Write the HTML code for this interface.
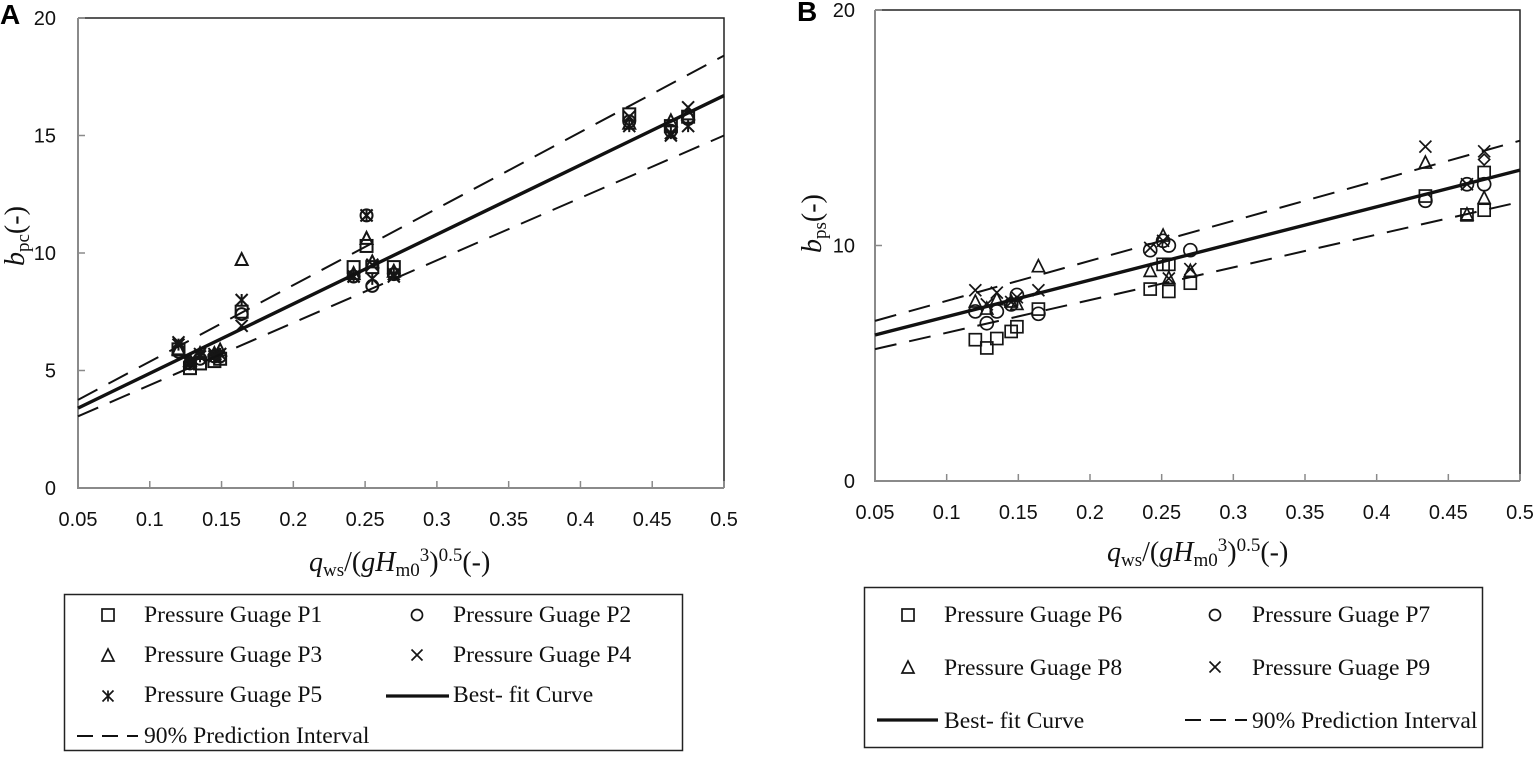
<!DOCTYPE html>
<html>
<head>
<meta charset="utf-8">
<title>Pressure gauge charts</title>
<style>
html,body{margin:0;padding:0;background:#fff;width:1538px;height:760px;overflow:hidden}
svg{display:block}
.tick{font-family:"Liberation Sans",sans-serif;font-size:20px;fill:#111}
.title{font-family:"Liberation Serif",serif;font-size:28px;fill:#111}
.leg{font-family:"Liberation Serif",serif;font-size:23.6px;fill:#111}
.panel{font-family:"Liberation Sans",sans-serif;font-size:28px;font-weight:bold;fill:#000}
</style>
</head>
<body>
<svg id="root" width="1538" height="760" viewBox="0 0 1538 760" xmlns="http://www.w3.org/2000/svg">
  <text class="panel" x="0" y="24">A</text>
  <text class="panel" x="797" y="21">B</text>

  <text class="title" transform="translate(24,266) rotate(-90)"><tspan font-style="italic">b</tspan><tspan font-size="19" dy="5">pc</tspan><tspan dy="-5">(-)</tspan></text>
  <text class="title" x="309" y="571"><tspan font-style="italic">q</tspan><tspan font-size="19" dy="5">ws</tspan><tspan dy="-5">/(</tspan><tspan font-style="italic">gH</tspan><tspan font-size="19" dy="5">m0</tspan><tspan font-size="19" dy="-15">3</tspan><tspan dy="10">)</tspan><tspan font-size="19" dy="-10">0.5</tspan><tspan dy="10">(-)</tspan></text>

  <text class="title" transform="translate(821,253) rotate(-90)"><tspan font-style="italic">b</tspan><tspan font-size="19" dy="5">ps</tspan><tspan dy="-5">(-)</tspan></text>
  <text class="title" x="1107" y="561"><tspan font-style="italic">q</tspan><tspan font-size="19" dy="5">ws</tspan><tspan dy="-5">/(</tspan><tspan font-style="italic">gH</tspan><tspan font-size="19" dy="5">m0</tspan><tspan font-size="19" dy="-15">3</tspan><tspan dy="10">)</tspan><tspan font-size="19" dy="-10">0.5</tspan><tspan dy="10">(-)</tspan></text>

  <g id="plot-a"></g>
  <g id="plot-b"></g>

  <g id="legend-a">
    <rect x="64.5" y="594.5" width="618" height="156" fill="#fff" stroke="#222" stroke-width="1.5"/>
    <text class="leg" x="144" y="622">Pressure Guage P1</text>
    <text class="leg" x="453" y="622">Pressure Guage P2</text>
    <text class="leg" x="144" y="662">Pressure Guage P3</text>
    <text class="leg" x="453" y="662">Pressure Guage P4</text>
    <text class="leg" x="144" y="702">Pressure Guage P5</text>
    <text class="leg" x="453" y="702">Best- fit Curve</text>
    <text class="leg" x="144" y="743">90% Prediction Interval</text>
    <line x1="386" y1="696" x2="449" y2="696" stroke="#111" stroke-width="3.2"/>
    <line x1="77" y1="736" x2="138" y2="736" stroke="#111" stroke-width="2" stroke-dasharray="16 9"/>
  </g>
  <g id="legend-b">
    <rect x="864.5" y="587.5" width="618" height="160" fill="#fff" stroke="#222" stroke-width="1.5"/>
    <text class="leg" x="944" y="622">Pressure Guage P6</text>
    <text class="leg" x="1252" y="622">Pressure Guage P7</text>
    <text class="leg" x="944" y="675">Pressure Guage P8</text>
    <text class="leg" x="1252" y="675">Pressure Guage P9</text>
    <text class="leg" x="944" y="728">Best- fit Curve</text>
    <text class="leg" x="1252" y="728">90% Prediction Interval</text>
    <line x1="877" y1="720" x2="938" y2="720" stroke="#111" stroke-width="3.2"/>
    <line x1="1185" y1="720" x2="1247" y2="720" stroke="#111" stroke-width="2" stroke-dasharray="16 9"/>
  </g>
</svg>
<script>
var xTicks = [0.05, 0.1, 0.15, 0.2, 0.25, 0.3, 0.35, 0.4, 0.45, 0.5];
var xTickLabels = ['0.05', '0.1', '0.15', '0.2', '0.25', '0.3', '0.35', '0.4', '0.45', '0.5'];
var yTicksA = [0, 5, 10, 15, 20];
var yTicksB = [0, 10, 20];
var flowRates = [0.12, 0.128, 0.135, 0.145, 0.149, 0.164, 0.242, 0.251, 0.255, 0.27, 0.434, 0.463, 0.475];

var p1 = [5.9, 5.1, 5.3, 5.4, 5.5, 7.5, 9.4, 10.3, 9.4, 9.4, 15.9, 15.4, 15.8];
var p2 = [5.8, 5.3, 5.5, 5.6, 5.6, 7.4, 9.0, 11.6, 8.6, 9.1, 15.6, 15.2, 15.7];
var p3 = [5.9, 5.4, 5.7, 5.7, 5.85, 9.7, 9.1, 10.6, 9.6, 9.2, 15.5, 15.6, 15.9];
var p4 = [6.2, 5.4, 5.7, 5.7, 5.7, 6.9, 9.0, 11.6, 9.5, 9.0, 15.8, 15.0, 16.2];
var p5 = [6.1, 5.3, 5.6, 5.6, 5.7, 8.0, 9.0, 11.6, 8.9, 9.1, 15.4, 15.1, 15.4];

var p6 = [6.0, 5.65, 6.05, 6.35, 6.55, 7.3, 8.15, 9.2, 8.05, 8.4, 12.1, 11.3, 11.5];
var p7 = [7.2, 6.7, 7.2, 7.5, 7.9, 7.1, 9.8, 10.2, 10.0, 9.8, 11.9, 12.6, 12.6];
var p8 = [7.6, 7.3, 7.7, 7.6, 7.5, 9.1, 8.9, 10.4, 8.6, 8.9, 13.5, 11.3, 12.0];
var p9 = [8.1, 7.5, 8.0, 7.6, 7.8, 8.1, 9.9, 10.2, 8.6, 9.0, 14.2, 12.6, 14.0];

var extraX = [0.255, 0.475];
var extraSquares = [9.2, 13.1];
var extraDiamondX = [0.475];
var extraDiamonds = [13.65];

var lineX = [0.05, 0.5];
var bestA = [3.4, 16.7];
var upperA = [3.75, 18.4];
var lowerA = [3.05, 15.0];
var bestB = [6.2, 13.2];
var upperB = [6.8, 14.45];
var lowerB = [5.6, 11.85];

var NS = 'http://www.w3.org/2000/svg';
var INK = '#151515';

function make(tag, parent, attrs) {
  var el = document.createElementNS(NS, tag);
  for (var k in attrs) { el.setAttribute(k, attrs[k]); }
  parent.appendChild(el);
  return el;
}

function drawMarker(parent, kind, cx, cy, s, sw) {
  var g = make('g', parent, {fill: 'none', stroke: INK, 'stroke-width': sw});
  
  
  var h = s / 2;
  if (kind === 'square') {
    make('rect', g, {x: cx - h, y: cy - h, width: s, height: s});
  } else if (kind === 'circle') {
    make('circle', g, {cx: cx, cy: cy, r: h});
  } else if (kind === 'triangle') {
    make('path', g, {d: 'M' + cx + ' ' + (cy - h - 1) + 'L' + (cx + h) + ' ' + (cy + h - 1) + 'L' + (cx - h) + ' ' + (cy + h - 1) + 'Z'});
  } else if (kind === 'cross') {
    make('path', g, {d: 'M' + (cx - h) + ' ' + (cy - h) + 'L' + (cx + h) + ' ' + (cy + h) + 'M' + (cx + h) + ' ' + (cy - h) + 'L' + (cx - h) + ' ' + (cy + h)});
  } else if (kind === 'star') {
    make('path', g, {d: 'M' + (cx - h) + ' ' + (cy - h) + 'L' + (cx + h) + ' ' + (cy + h) + 'M' + (cx + h) + ' ' + (cy - h) + 'L' + (cx - h) + ' ' + (cy + h) + 'M' + cx + ' ' + (cy - h) + 'L' + cx + ' ' + (cy + h)});
  } else if (kind === 'diamond') {
    make('path', g, {d: 'M' + cx + ' ' + (cy - h) + 'L' + (cx + h) + ' ' + cy + 'L' + cx + ' ' + (cy + h) + 'L' + (cx - h) + ' ' + cy + 'Z'});
  }
}

function drawChart(cfg) {
  var root = document.getElementById(cfg.id);
  function sx(v) { return cfg.left + (v - 0.05) / 0.45 * (cfg.right - cfg.left); }
  function sy(v) { return cfg.bottom - v / 20 * (cfg.bottom - cfg.top); }

  var frame = make('path', root, {d: 'M' + cfg.left + ' ' + cfg.top + 'H' + cfg.right + 'V' + cfg.bottom, fill: 'none', stroke: '#222', 'stroke-width': 1.5});
  
  
  var axes = make('path', root, {d: 'M' + cfg.left + ' ' + cfg.top + 'V' + cfg.bottom + 'H' + cfg.right, fill: 'none', stroke: '#8a8a8a', 'stroke-width': 2});
  
  

  xTicks.forEach(function (t, i) {
    var tick = make('line', root, {x1: sx(t), x2: sx(t), y1: cfg.bottom - 7, y2: cfg.bottom, stroke: '#8a8a8a', 'stroke-width': 1.5});
    
    
    var label = make('text', root, {x: sx(t), y: cfg.bottom + 38, 'text-anchor': 'middle', 'class': 'tick'});
    
    
    label.textContent = xTickLabels[i];
  });
  cfg.yTicks.forEach(function (t) {
    var tick = make('line', root, {x1: cfg.left, x2: cfg.left + 7, y1: sy(t), y2: sy(t), stroke: '#8a8a8a', 'stroke-width': 1.5});
    
    
    var label = make('text', root, {x: cfg.left - cfg.labelGap, y: sy(t) + 7, 'text-anchor': 'end', 'class': 'tick'});
    
    
    label.textContent = String(t);
  });

  cfg.series.forEach(function (s) {
    var group = make('g', root, {});
    
    
    s.values.forEach(function (v, i) {
      drawMarker(group, s.kind, sx(s.xs[i]), sy(v), s.size, cfg.markerStroke);
    });
  });

  cfg.lines.forEach(function (l) {
    var line = make('line', root, {x1: sx(lineX[0]), y1: sy(l.values[0]), x2: sx(lineX[1]), y2: sy(l.values[1]), stroke: '#111', 'stroke-width': l.width});
    if (l.dash) { line.setAttribute('stroke-dasharray', l.dash); }
    
    
  });
}

drawChart({
  id: 'plot-a', left: 78, right: 724, top: 18, bottom: 488, yTicks: yTicksA, labelGap: 22, markerStroke: 2,
  series: [
    {name: 'p1', kind: 'square', size: 12, xs: flowRates, values: p1},
    {name: 'p2', kind: 'circle', size: 12, xs: flowRates, values: p2},
    {name: 'p3', kind: 'triangle', size: 12, xs: flowRates, values: p3},
    {name: 'p4', kind: 'cross', size: 12, xs: flowRates, values: p4},
    {name: 'p5', kind: 'star', size: 12, xs: flowRates, values: p5}
  ],
  lines: [
    {name: 'upper-interval-a', values: upperA, width: 2, dash: '22 12.5'},
    {name: 'lower-interval-a', values: lowerA, width: 2, dash: '22 12.5'},
    {name: 'best-fit-a', values: bestA, width: 3.4}
  ]
});

drawChart({
  id: 'plot-b', left: 875, right: 1520, top: 10, bottom: 481, yTicks: yTicksB, labelGap: 20, markerStroke: 1.7,
  series: [
    {name: 'p6', kind: 'square', size: 12, xs: flowRates, values: p6},
    {name: 'p6-repeat', kind: 'square', size: 12, xs: extraX, values: extraSquares},
    {name: 'p7', kind: 'circle', size: 13, xs: flowRates, values: p7},
    {name: 'p8', kind: 'triangle', size: 12, xs: flowRates, values: p8},
    {name: 'p9', kind: 'cross', size: 12, xs: flowRates, values: p9},
    {name: 'unlabelled-diamond', kind: 'diamond', size: 11, xs: extraDiamondX, values: extraDiamonds}
  ],
  lines: [
    {name: 'upper-interval-b', values: upperB, width: 2, dash: '22 13'},
    {name: 'lower-interval-b', values: lowerB, width: 2, dash: '22 13'},
    {name: 'best-fit-b', values: bestB, width: 3.4}
  ]
});

var legendA = document.getElementById('legend-a');
drawMarker(legendA, 'square', 108, 615, 12, 1.7);
drawMarker(legendA, 'circle', 417, 615, 11, 1.7);
drawMarker(legendA, 'triangle', 108, 656, 12, 1.7);
drawMarker(legendA, 'cross', 417, 655, 11, 1.7);
drawMarker(legendA, 'star', 108, 696, 11, 1.7);

var legendB = document.getElementById('legend-b');
drawMarker(legendB, 'square', 908, 615, 12, 1.7);
drawMarker(legendB, 'circle', 1215, 615, 11, 1.7);
drawMarker(legendB, 'triangle', 908, 668, 12, 1.7);
drawMarker(legendB, 'cross', 1215, 667, 11, 1.7);
</script>
</body>
</html>
